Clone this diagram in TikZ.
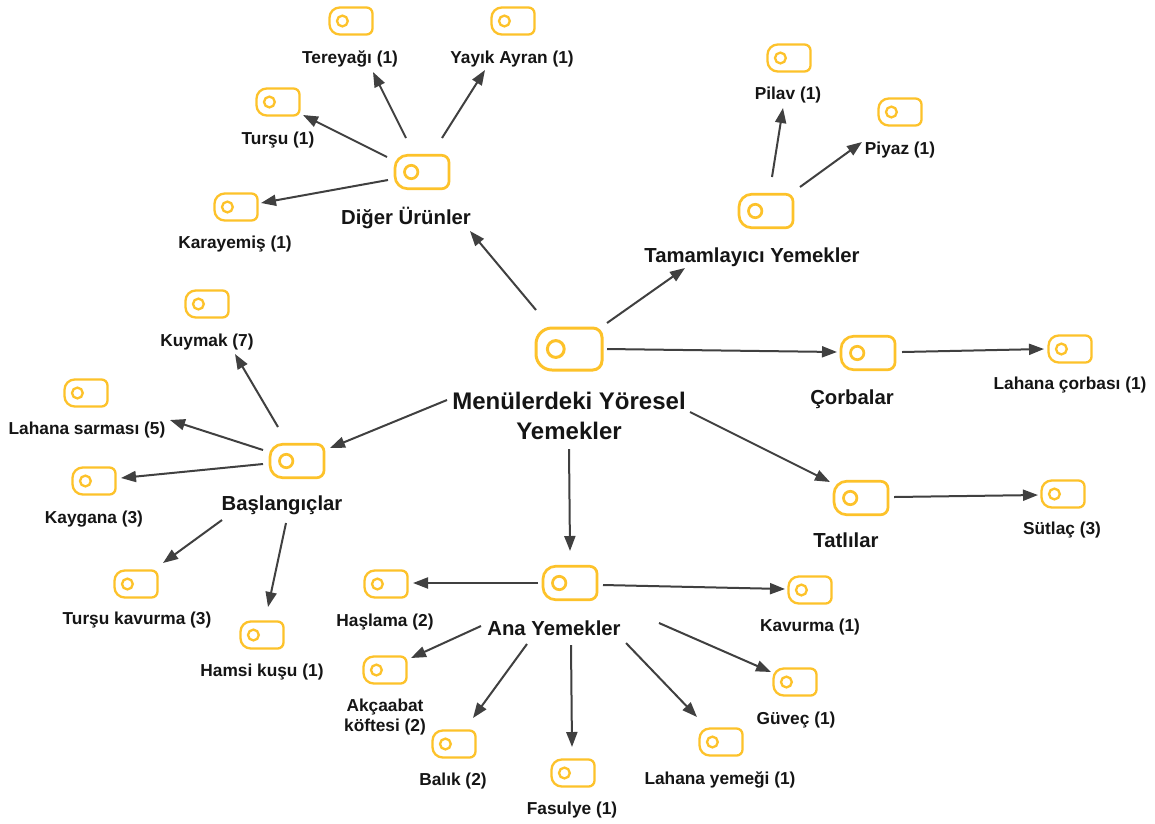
\documentclass[tikz,border=0pt]{standalone}
\usepackage{fontspec}
\setmainfont{Liberation Sans}
\usetikzlibrary{arrows.meta,calc}
\definecolor{yel}{HTML}{FDC22A}
\definecolor{arrc}{HTML}{404040}
\definecolor{txt}{HTML}{151515}
\newcommand\mkicon[6]{%
 \node[inner sep=0pt,outer sep=0pt,minimum width=#4pt,minimum height=#5pt] (#1) at (#2,#3) {};
 \pgfmathsetlengthmacro\rA{0.38*#5pt}%
 \pgfmathsetlengthmacro\rB{0.22*#5pt}%
 \pgfmathsetlengthmacro\rC{0.2*#5pt}%
 \draw[yel,line width=#6pt,line join=round] (#1.north) [rounded corners=\rB] -- (#1.north east) -- (#1.south east) -- (#1.south) [rounded corners=\rA] -- (#1.south west) -- (#1.north west) -- cycle;
 \draw[yel,line width=#6pt] ($(#1.west)!0.3!(#1.east)$) circle[radius=\rC];
}
\newcommand\bigicon[3]{\mkicon{#1}{#2}{#3}{66}{42}{3}}
\newcommand\midicon[3]{\mkicon{#1}{#2}{#3}{54}{33.5}{2.7}}
\newcommand\smicon[3]{\mkicon{#1}{#2}{#3}{43}{27}{2.3}}
\newcommand\conn[4]{%
 \coordinate (#1-#2-s) at (#3);
 \coordinate (#1-#2-e) at (#4);
 \draw[arr] (#1-#2-s) -- (#1-#2-e);}
\tikzset{
 arr/.style={draw=arrc,line width=2pt,-{Triangle[length=15pt,width=11pt]}},
 leaf/.style={font=\bfseries\fontsize{17.3}{20}\selectfont,text=txt,anchor=base,inner sep=0pt,align=center},
 cat/.style={font=\bfseries\fontsize{20.3}{24}\selectfont,text=txt,anchor=base,inner sep=0pt,align=center},
 root/.style={font=\bfseries\fontsize{24}{30}\selectfont,text=txt,anchor=base,inner sep=0pt,align=center}
}
\begin{document}
\begin{tikzpicture}[x=1pt,y=-1pt]
\fill[white] (0,0) rectangle (1155,823);
\useasboundingbox (0,0) rectangle (1155,823);
% root
\bigicon{cen}{569}{349}
\node[root] (cen-l) at (569,439) {Menülerdeki Yöresel\\Yemekler};
% categories
\midicon{dig}{422}{172}
\node[cat] (dig-l) at (406,224) {Diğer Ürünler};
\midicon{tam}{766}{211}
\node[cat] (tam-l) at (752,262) {Tamamlayıcı Yemekler};
\midicon{cor}{868}{353}
\node[cat] (cor-l) at (852,404) {Çorbalar};
\midicon{tat}{861}{498}
\node[cat] (tat-l) at (846,547) {Tatlılar};
\midicon{ana}{570}{583}
\node[cat] (ana-l) at (554,635) {Ana Yemekler};
\midicon{bas}{297}{461}
\node[cat] (bas-l) at (282,510) {Başlangıçlar};
% leaves
\smicon{ter}{351}{21}
\node[leaf] (ter-l) at (350,63) {Tereyağı (1)};
\smicon{yay}{513}{21}
\node[leaf] (yay-l) at (512,63) {Yayık Ayran (1)};
\smicon{tur}{278}{102}
\node[leaf] (tur-l) at (278,144) {Turşu (1)};
\smicon{kar}{236}{207}
\node[leaf] (kar-l) at (235,248) {Karayemiş (1)};
\smicon{pil}{789}{58}
\node[leaf] (pil-l) at (788,99) {Pilav (1)};
\smicon{piy}{900}{112}
\node[leaf] (piy-l) at (900,154) {Piyaz (1)};
\smicon{lco}{1070}{349}
\node[leaf] (lco-l) at (1070,389) {Lahana çorbası (1)};
\smicon{sut}{1063}{494}
\node[leaf] (sut-l) at (1062,534) {Sütlaç (3)};
\smicon{kuy}{207}{304}
\node[leaf] (kuy-l) at (207,346) {Kuymak (7)};
\smicon{lsa}{86}{393}
\node[leaf] (lsa-l) at (87,434) {Lahana sarması (5)};
\smicon{kay}{94}{481}
\node[leaf] (kay-l) at (94,523) {Kaygana (3)};
\smicon{tka}{136}{584}
\node[leaf] (tka-l) at (137,624) {Turşu kavurma (3)};
\smicon{ham}{262}{635}
\node[leaf] (ham-l) at (262,676) {Hamsi kuşu (1)};
\smicon{has}{386}{584}
\node[leaf] (has-l) at (385,626) {Haşlama (2)};
\smicon{kav}{810}{590}
\node[leaf] (kav-l) at (810,631) {Kavurma (1)};
\smicon{akc}{385}{670}
\node[leaf] (akc-l) at (385,731) {Akçaabat\\köftesi (2)};
\smicon{guv}{795}{682}
\node[leaf] (guv-l) at (796,724) {Güveç (1)};
\smicon{bal}{454}{744}
\node[leaf] (bal-l) at (453,785) {Balık (2)};
\smicon{fas}{573}{773}
\node[leaf] (fas-l) at (572,814) {Fasulye (1)};
\smicon{lye}{721}{742}
\node[leaf] (lye-l) at (720,784) {Lahana yemeği (1)};
% connectors
\conn{cen}{dig}{536,310}{470,231}
\conn{cen}{tam}{607,323}{685,268}
\conn{cen}{cor}{607,349}{837,352}
\conn{cen}{tat}{690,412}{830,482}
\conn{cen}{ana}{569,449}{570,551}
\conn{cen}{bas}{447,400}{330,448}
\conn{dig}{kar}{388,180}{261,203}
\conn{dig}{tur}{387,157}{303,115}
\conn{dig}{ter}{406,138}{373,72}
\conn{dig}{yay}{442,138}{485,70}
\conn{tam}{pil}{772,177}{783,108}
\conn{tam}{piy}{800,187}{862,142}
\conn{cor}{lco}{902,352}{1044,349}
\conn{tat}{sut}{894,497}{1038,495}
\conn{bas}{kuy}{278,427}{235,354}
\conn{bas}{lsa}{263,450}{170,420}
\conn{bas}{kay}{263,464}{121,478}
\conn{bas}{tka}{222,520}{163,563}
\conn{bas}{ham}{286,523}{268,607}
\conn{ana}{has}{538,583}{413,583}
\conn{ana}{kav}{603,585}{785,589}
\conn{ana}{akc}{481,626}{411,658}
\conn{ana}{bal}{527,644}{473,718}
\conn{ana}{fas}{571,645}{572,747}
\conn{ana}{lye}{626,643}{697,717}
\conn{ana}{guv}{659,623}{771,672}
\end{tikzpicture}
\end{document}
